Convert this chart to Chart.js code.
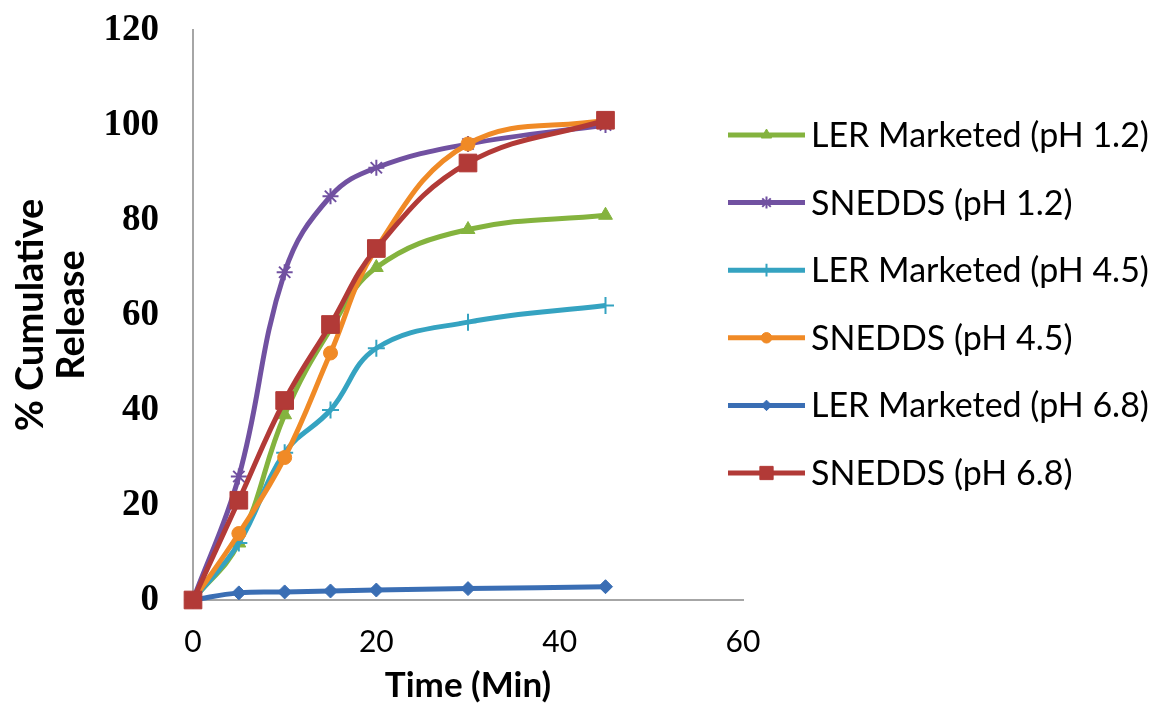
<!DOCTYPE html>
<html>
<head>
<meta charset="utf-8">
<script src="https://cdn.jsdelivr.net/npm/chart.js@4.4.0/dist/chart.umd.min.js"></script>
<style>
    html, body { margin: 0; padding: 0; background: #fff; }
    #wrap { width: 1155px; height: 703px; position: relative; }
</style>
</head>
<body>
<div id="wrap"><canvas id="myChart"></canvas></div>
<script>
// time points (min)
const times = [0, 5, 10, 15, 20, 30, 45];

// % cumulative release
const lerPh12 = [0, 12, 39, 57, 70, 78, 81];
const snePh12 = [0, 26, 69, 85, 91, 96, 100];
const lerPh45 = [0, 12, 31, 40, 53, 58.5, 62];
const snePh45 = [0, 14, 30, 52, 74, 96, 101];
const lerPh68 = [0, 1.5, 1.7, 1.9, 2.1, 2.4, 2.8];
const snePh68 = [0, 21, 42, 58, 74, 92, 101];

const seriesNames = [
    'LER Marketed (pH 1.2)',
    'SNEDDS (pH 1.2)',
    'LER Marketed (pH 4.5)',
    'SNEDDS (pH 4.5)',
    'LER Marketed (pH 6.8)',
    'SNEDDS (pH 6.8)'
];
const xTicks = [0, 20, 40, 60];
const yTicks = [0, 20, 40, 60, 80, 100, 120];

const toPoints = (vals) => vals.map((v, i) => ({ x: times[i], y: v }));

const styles = [
    { color: '#84B33E', point: 'triangle', r: 8 },
    { color: '#7151A1', point: 'star', r: 8 },
    { color: '#35A3C1', point: 'cross', r: 8.5 },
    { color: '#F08A26', point: 'circle', r: 7 },
    { color: '#3A6EB4', point: 'rectRot', r: 7 },
    { color: '#B23A37', point: 'rect', r: 12.5 }
];
const values = [lerPh12, snePh12, lerPh45, snePh45, lerPh68, snePh68];

const datasets = values.map((vals, i) => ({
    label: seriesNames[i],
    data: toPoints(vals),
    borderColor: styles[i].color,
    backgroundColor: styles[i].color,
    pointBackgroundColor: styles[i].color,
    pointBorderColor: styles[i].color,
    pointBorderWidth: (styles[i].point === 'star' || styles[i].point === 'cross') ? 2 : 1,
    pointStyle: styles[i].point,
    pointRadius: styles[i].r,
    borderWidth: 5,
    tension: 0.4,
    clip: false,
    order: values.length - 1 - i
}));

// legend: line with the marker in the middle, like the spreadsheet one
const lineLegend = {
    id: 'lineLegend',
    afterDraw(chart, args, opts) {
        const ctx = chart.ctx;
        const drawPoint = Chart.helpers && Chart.helpers.drawPoint;
        chart.data.datasets.forEach((ds, i) => {
            const y = opts.top + i * opts.step;
            ctx.save();
            ctx.strokeStyle = ds.borderColor;
            ctx.lineWidth = ds.borderWidth;
            ctx.beginPath();
            ctx.moveTo(opts.left, y);
            ctx.lineTo(opts.left + opts.lineLen, y);
            ctx.stroke();
            if (drawPoint) {
                ctx.fillStyle = ds.pointBackgroundColor;
                ctx.strokeStyle = ds.pointBorderColor;
                ctx.lineWidth = ds.pointBorderWidth;
                drawPoint(ctx, {
                    pointStyle: ds.pointStyle,
                    radius: ds.pointRadius * 0.75,
                    rotation: 0,
                    borderWidth: ds.pointBorderWidth
                }, opts.left + opts.lineLen / 2, y);
            }
            ctx.fillStyle = '#000';
            ctx.font = opts.font;
            ctx.textBaseline = 'middle';
            ctx.textAlign = 'left';
            ctx.fillText(ds.label, opts.left + opts.lineLen + opts.gap, y + 1);
            ctx.restore();
        });
    }
};

const ctx = document.getElementById('myChart').getContext('2d');
const myChart = new Chart(ctx, {
    type: 'line',
    data: { datasets },
    plugins: [lineLegend],
    options: {
        responsive: true,
        maintainAspectRatio: false,
        animation: false,
        layout: {
            padding: { top: 30, right: 412, bottom: 0, left: 0 }
        },
        plugins: {
            legend: { display: false },
            tooltip: { enabled: false },
            lineLegend: {
                left: 728,
                top: 135,
                step: 67.6,
                lineLen: 77,
                gap: 6,
                font: '34px Lato'
            }
        },
        scales: {
            x: {
                type: 'linear',
                min: 0,
                max: 60,
                afterFit: (s) => { s.height = 103; },
                afterBuildTicks: (s) => { s.ticks = xTicks.map(v => ({ value: v })); },
                grid: { display: false, drawTicks: false },
                border: { display: true, color: '#A6A6A6', width: 2 },
                ticks: {
                    color: '#000',
                    padding: 24,
                    font: { family: 'Lato', size: 30 }
                },
                title: {
                    display: true,
                    text: 'Time (Min)',
                    color: '#000',
                    padding: 0,
                    font: { family: 'Lato', size: 35, weight: 'bold', lineHeight: 1 }
                }
            },
            y: {
                min: 0,
                max: 120,
                afterFit: (s) => { s.width = 193; },
                afterBuildTicks: (s) => { s.ticks = yTicks.map(v => ({ value: v })); },
                // gap between labels and axis comes from an invisible tick length
                grid: { display: false, drawTicks: true, tickLength: 34, tickColor: 'rgba(0,0,0,0)' },
                border: { display: true, color: '#A6A6A6', width: 2 },
                ticks: {
                    color: '#000',
                    padding: 0,
                    font: { family: 'Liberation Serif', size: 37, weight: 'bold' }
                },
                title: {
                    display: true,
                    text: ['% Cumulative', 'Release'],
                    color: '#000',
                    padding: { top: 10, bottom: 0 },
                    font: { family: 'Lato', size: 38, weight: 'bold', lineHeight: 1.08 }
                }
            }
        }
    }
});
</script>
</body>
</html>
